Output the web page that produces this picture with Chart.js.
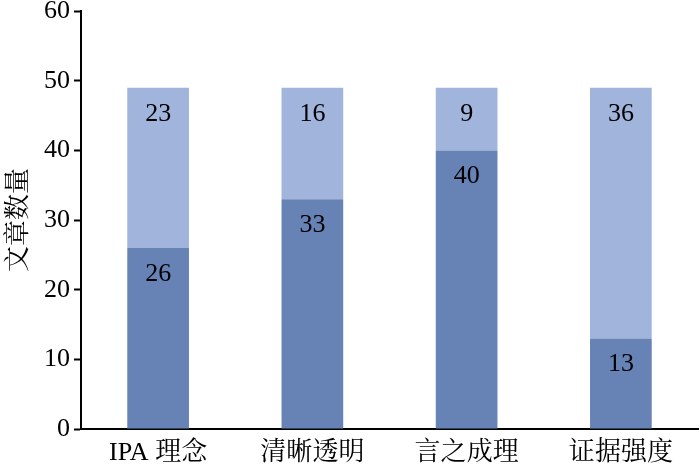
<!DOCTYPE html>
<html>
<head>
<meta charset="utf-8">
<script src="https://cdn.jsdelivr.net/npm/chart.js@4"></script>
<style>
  html, body { margin: 0; padding: 0; background: #fff; }
  #wrap { width: 700px; height: 469px; position: relative; }
</style>
</head>
<body>
<div id="wrap"><canvas id="articles-chart"></canvas></div>
<script>
  const categories = ['IPA 理念', '清晰透明', '言之成理', '证据强度'];
  const lowerValues = [26, 33, 40, 13];
  const upperValues = [23, 16, 9, 36];
  const yTicks = [0, 10, 20, 30, 40, 50, 60];

  const FONT = "'Liberation Serif', 'Times New Roman', 'Noto Serif CJK SC', 'Noto Sans CJK SC', serif";

  // draw the value inside each segment, near its top
  const segmentLabels = {
    id: 'segmentLabels',
    afterDatasetsDraw(chart) {
      const { ctx } = chart;
      ctx.save();
      ctx.fillStyle = '#000';
      ctx.font = `26px ${FONT}`;
      ctx.textAlign = 'center';
      ctx.textBaseline = 'middle';
      chart.data.datasets.forEach((ds, i) => {
        chart.getDatasetMeta(i).data.forEach((bar, j) => {
          ctx.fillText(String(ds.data[j]), bar.x, bar.y + 26);
        });
      });
      ctx.restore();
    },
  };

  const ctx = document.getElementById('articles-chart').getContext('2d');
  new Chart(ctx, {
    type: 'bar',
    data: {
      labels: categories,
      datasets: [{
        label: 'lower',
        data: lowerValues,
        backgroundColor: 'rgb(103, 131, 181)',
        borderWidth: 0,
      }, {
        label: 'upper',
        data: upperValues,
        backgroundColor: 'rgb(160, 180, 220)',
        borderWidth: 0,
      }],
    },
    options: {
      responsive: true,
      maintainAspectRatio: false,
      animation: false,
      layout: { padding: { top: 0, right: 2, left: 0, bottom: 0 } },
      plugins: {
        legend: { display: false },
        tooltip: { enabled: false },
      },
      datasets: {
        bar: { categoryPercentage: 1, barPercentage: 0.4 },
      },
      scales: {
        x: {
          stacked: true,
          grid: { display: false, drawTicks: false },
          border: { color: '#000', width: 2 },
          ticks: { color: '#000', font: { family: FONT, size: 26 }, padding: 9 },
          afterFit: (scale) => { scale.height = 40; },
        },
        y: {
          stacked: true,
          min: 0,
          max: 60,
          afterBuildTicks: (scale) => { scale.ticks = yTicks.map((v) => ({ value: v })); },
          grid: { drawOnChartArea: false, drawTicks: true, tickLength: 7, tickColor: '#000', tickWidth: 2 },
          border: { color: '#000', width: 2 },
          ticks: { color: '#000', font: { family: FONT, size: 26, lineHeight: 0.55 }, padding: 4 },
          title: {
            display: true,
            text: '文章数量',
            color: '#000',
            font: { family: FONT, size: 26 },
            padding: { top: 4, bottom: 0 },
          },
          afterFit: (scale) => { scale.width = 81; },
        },
      },
    },
    plugins: [segmentLabels],
  });
</script>
</body>
</html>
